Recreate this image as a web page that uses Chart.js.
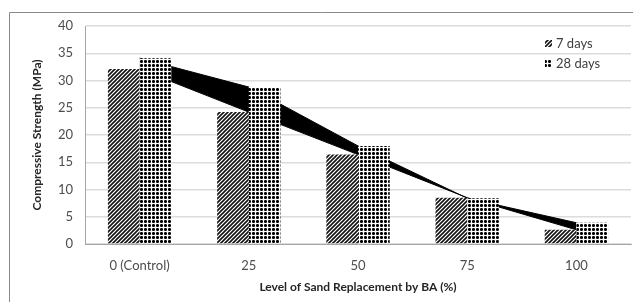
<!DOCTYPE html>
<html>
<head>
<meta charset="utf-8">
<script src="https://cdn.jsdelivr.net/npm/chart.js@4/dist/chart.umd.min.js"></script>
<style>
  html, body { margin: 0; padding: 0; background: #fff; }
  #wrap { position: relative; width: 633px; height: 302px; }
</style>
</head>
<body>
<div id="wrap"><canvas id="c" width="633" height="302"></canvas></div>
<script>
// ---- data ----
const categories = ['0 (Control)', '25', '50', '75', '100'];
const seriesNames = ['7 days', '28 days'];
const days7 = [32.1, 24.2, 16.4, 8.5, 2.6];
const days28 = [34.1, 28.8, 18.0, 8.4, 3.9];
const yMin = 0, yMax = 40, yStep = 5;
const xTitle = 'Level of Sand Replacement by BA (%)';
const yTitle = 'Compressive Strength (MPa)';

const canvas = document.getElementById('c');
const ctx = canvas.getContext('2d');

function hatchPattern() {
  const c = document.createElement('canvas'); c.width = 4; c.height = 4;
  const g = c.getContext('2d');
  g.fillStyle = '#fff'; g.fillRect(0, 0, 4, 4);
  g.strokeStyle = '#111'; g.lineWidth = 1.6;
  g.beginPath();
  g.moveTo(0, 4); g.lineTo(4, 0);
  g.moveTo(-1, 1); g.lineTo(1, -1);
  g.moveTo(3, 5); g.lineTo(5, 3);
  g.stroke();
  return ctx.createPattern(c, 'repeat');
}
function dotPattern() {
  const c = document.createElement('canvas'); c.width = 4; c.height = 4;
  const g = c.getContext('2d');
  g.fillStyle = '#fff'; g.fillRect(0, 0, 4, 4);
  g.fillStyle = '#000';
  g.fillRect(0, 0, 3, 3);
  g.fillStyle = '#555';
  g.fillRect(0, 0, 1, 1); g.fillRect(2, 0, 1, 1); g.fillRect(0, 2, 1, 1); g.fillRect(2, 2, 1, 1);
  return ctx.createPattern(c, 'repeat');
}
const pat7 = hatchPattern();
const pat28 = dotPattern();

const frame = {
  id: 'frame',
  beforeDraw(chart) {
    const g = chart.ctx;
    g.save();
    g.fillStyle = '#fff';
    g.fillRect(0, 0, chart.width, chart.height);
    g.strokeStyle = '#8a8a8a'; g.lineWidth = 1;
    g.beginPath();
    g.moveTo(9.5, chart.height); g.lineTo(9.5, 12.5); g.lineTo(chart.width, 12.5);
    g.stroke();
    g.restore();
  }
};

const legendBox = {
  id: 'legendBox',
  afterDraw(chart) {
    const g = chart.ctx;
    g.save();
    const pats = [pat7, pat28];
    const ys = [43, 63];
    g.font = '13px Lato';
    g.textBaseline = 'middle';
    for (let i = 0; i < 2; i++) {
      g.fillStyle = pats[i];
      g.fillRect(545, ys[i] - 3, 7, 7);
      g.fillStyle = '#404040';
      g.fillText(seriesNames[i], 556, ys[i] + 1);
    }
    g.restore();
  }
};

new Chart(ctx, {
  data: {
    labels: categories,
    datasets: [
      { type: 'line', label: 'trend7', data: days7, borderColor: '#000', borderWidth: 1,
        pointRadius: 0, fill: false, order: 3, tension: 0 },
      { type: 'line', label: 'trend28', data: days28, borderColor: '#000', borderWidth: 1,
        pointRadius: 0, fill: '-1', backgroundColor: '#000', order: 3, tension: 0 },
      { type: 'bar', label: seriesNames[0], data: days7, backgroundColor: pat7,
        borderWidth: 0, order: 1, barPercentage: 1.0, categoryPercentage: 0.58 },
      { type: 'bar', label: seriesNames[1], data: days28, backgroundColor: pat28,
        borderWidth: 0, order: 1, barPercentage: 1.0, categoryPercentage: 0.58 }
    ]
  },
  options: {
    responsive: false,
    animation: false,
    events: [],
    layout: { padding: { top: 26, right: 2, bottom: 0, left: 0 } },
    plugins: { legend: { display: false }, tooltip: { enabled: false } },
    scales: {
      x: {
        grid: { display: false },
        border: { display: true, color: '#a6a6a6', width: 1 },
        ticks: { color: '#4d4d4d', font: { family: 'Lato', size: 13 }, padding: 6, maxRotation: 0 },
        title: { display: true, text: xTitle, color: '#262626',
                 font: { family: 'Lato', size: 12, weight: 'bold' }, padding: { top: 0, bottom: 8 } },
        afterFit(s) { s.height = 58; }
      },
      y: {
        min: yMin, max: yMax,
        grid: { color: '#dcdcdc', lineWidth: 1.5, drawTicks: false },
        border: { display: true, color: '#a6a6a6', width: 1 },
        ticks: { stepSize: yStep, color: '#4d4d4d', font: { family: 'Lato', size: 13 }, padding: 12 },
        title: { display: true, text: yTitle, color: '#262626',
                 font: { family: 'Lato', size: 12, weight: 'bold' }, padding: { top: 30, bottom: 0 } },
        afterFit(s) { s.width = 85; }
      }
    }
  },
  plugins: [frame, legendBox]
});
</script>
</body>
</html>
